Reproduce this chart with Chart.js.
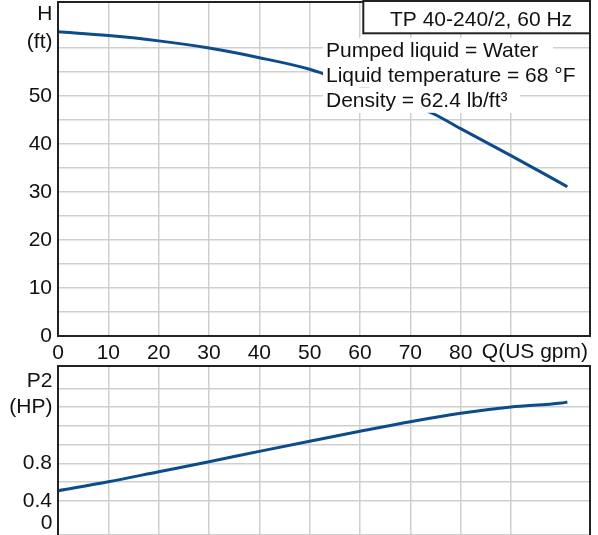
<!DOCTYPE html>
<html lang="en">
<head>
<meta charset="UTF-8">
<title>TP 40-240/2, 60 Hz</title>
<script src="https://cdn.jsdelivr.net/npm/chart.js"></script>
<style>
  body { margin: 0; background: #fff; }
  #wrap { position: relative; width: 598px; height: 535px; overflow: hidden; }
  canvas { position: absolute; left: 0; }
  #headChart { top: 0; }
  #powerChart { top: 362px; }
</style>
</head>
<body>
<div id="wrap">
  <canvas id="headChart" width="598" height="366"></canvas>
  <canvas id="powerChart" width="598" height="173"></canvas>
</div>
<script>
// pump curve data
const flowQ = [0, 10, 20, 30, 40, 50, 52.8, 60, 70, 75, 80, 90, 100, 101.2];
const headH = [63.4, 62.6, 61.5, 60.0, 58.0, 55.6, 54.6, 52.1, 48.4, 46.1, 43.2, 37.6, 31.8, 31.1];
const powerQ = [0, 10, 20, 30, 40, 50, 60, 70, 80, 90, 100, 101.2];
const powerP2 = [0.507, 0.603, 0.71, 0.817, 0.928, 1.036, 1.142, 1.245, 1.335, 1.402, 1.445, 1.456];

const xTickLabels = ['0', '10', '20', '30', '40', '50', '60', '70', '80'];
const headTickLabels = ['0', '10', '20', '30', '40', '50'];
const powerTickLabels = ['0.8', '0.4'];
const powerZeroLabel = '0';
const titleText = 'TP 40-240/2, 60 Hz';
const infoLines = ['Pumped liquid = Water', 'Liquid temperature = 68 \u00B0F', 'Density = 62.4 lb/ft\u00B3'];

const FONT = '"Liberation Sans", Arial, sans-serif';
const FSIZE = 21;
const TXT = '#111';
const GRID = '#cfcfcf';
const CURVE = '#0d4c8a';

function frame(chart, withBottom) {
    const c = chart.ctx, a = chart.chartArea;
    c.save();
    c.strokeStyle = '#222';
    c.lineWidth = 2;
    c.beginPath();
    if (withBottom) {
        c.rect(a.left, a.top, a.right - a.left, a.bottom - a.top);
    } else {
        c.moveTo(a.left, a.bottom + 2);
        c.lineTo(a.left, a.top);
        c.lineTo(a.right, a.top);
        c.lineTo(a.right, a.bottom + 2);
    }
    c.stroke();
    c.restore();
}

// no extra room for half tick labels, the plot fills its box
function noPad(s) {
    s.paddingTop = 0;
    s.paddingBottom = 0;
    s.paddingLeft = 0;
    s.paddingRight = 0;
}

const headNotes = {
    id: 'headNotes',
    afterDatasetsDraw(chart) {
        const c = chart.ctx, a = chart.chartArea;
        const rowRight = [553, a.right, 520];
        c.save();
        c.font = FSIZE + 'px ' + FONT;
        c.textBaseline = 'alphabetic';
        c.textAlign = 'left';
        infoLines.forEach((t, i) => {
            const base = 57.3 + i * 25;
            c.fillStyle = '#fff';
            c.fillRect(323, base - 19.5, rowRight[i] - 323, 25);
            c.fillStyle = TXT;
            c.fillText(t, 326, base);
        });
        c.restore();
    },
    afterDraw(chart) {
        const c = chart.ctx, a = chart.chartArea;
        frame(chart, true);
        c.save();
        // title box
        c.fillStyle = '#fff';
        c.fillRect(363.3, 1, a.right - 363.3, 32.3);
        c.strokeStyle = '#222';
        c.lineWidth = 2;
        c.strokeRect(363.3, 1, a.right - 363.3, 32.3);
        c.font = FSIZE + 'px ' + FONT;
        c.fillStyle = TXT;
        c.textAlign = 'left';
        c.textBaseline = 'alphabetic';
        c.fillText(titleText, 390, 26);
        // axis titles
        c.textAlign = 'right';
        c.textBaseline = 'middle';
        c.fillText('H', 52.5, 14.5);
        c.fillText('(ft)', 52.5, 42);
        c.fillText('Q(US gpm)', 588, 352);
        c.restore();
    }
};

const powerNotes = {
    id: 'powerNotes',
    afterDraw(chart) {
        const c = chart.ctx, a = chart.chartArea;
        const y = chart.scales.y;
        frame(chart, false);
        c.save();
        c.font = FSIZE + 'px ' + FONT;
        c.fillStyle = TXT;
        c.textAlign = 'right';
        c.textBaseline = 'middle';
        c.fillText('P2', 52.5, 19);
        c.fillText('(HP)', 52.5, 45);
        // zero label, kept inside the visible strip
        const zy = Math.min(y.getPixelForValue(0), a.bottom - 11.4);
        c.fillText(powerZeroLabel, 52.5, zy);
        c.restore();
    }
};

const tickFont = { family: FONT, size: FSIZE };

new Chart(document.getElementById('headChart'), {
    type: 'line',
    data: {
        datasets: [{
            data: flowQ.map((q, i) => ({ x: q, y: headH[i] })),
            borderColor: CURVE,
            borderWidth: 3,
            pointRadius: 0,
            cubicInterpolationMode: 'monotone'
        }]
    },
    options: {
        responsive: false,
        animation: false,
        layout: { padding: { top: 2, right: 8, left: 0, bottom: 0 } },
        plugins: { legend: { display: false }, tooltip: { enabled: false } },
        scales: {
            x: {
                type: 'linear', min: 0, max: 105.7,
                border: { display: false },
                grid: { color: GRID, lineWidth: 1.5, drawTicks: false },
                ticks: {
                    stepSize: 10, padding: 5, color: TXT, font: tickFont,
                    maxRotation: 0, autoSkip: false,
                    callback: v => xTickLabels.includes(String(v)) ? String(v) : ''
                },
                afterFit: s => { s.height = 30; noPad(s); }
            },
            y: {
                min: 0, max: 69.6,
                border: { display: false },
                grid: { color: GRID, lineWidth: 1.5, drawTicks: false },
                ticks: {
                    stepSize: 5, padding: 6, color: TXT, font: tickFont, autoSkip: false,
                    callback: v => headTickLabels.includes(String(v)) ? String(v) : ''
                },
                afterFit: s => { s.width = 58; noPad(s); }
            }
        }
    },
    plugins: [headNotes]
});

new Chart(document.getElementById('powerChart'), {
    type: 'line',
    data: {
        datasets: [{
            data: powerQ.map((q, i) => ({ x: q, y: powerP2[i] })),
            borderColor: CURVE,
            borderWidth: 3,
            pointRadius: 0,
            cubicInterpolationMode: 'monotone'
        }]
    },
    options: {
        responsive: false,
        animation: false,
        layout: { padding: { top: 4, right: 8, left: 0, bottom: 0 } },
        plugins: { legend: { display: false }, tooltip: { enabled: false } },
        scales: {
            x: {
                type: 'linear', min: 0, max: 105.7,
                border: { display: false },
                grid: { color: GRID, lineWidth: 1.5, drawTicks: false },
                ticks: { stepSize: 10, display: false },
                afterFit: s => { s.height = 0; noPad(s); }
            },
            y: {
                min: 0.0332, max: 1.841,
                border: { display: false },
                grid: { color: GRID, lineWidth: 1.5, drawTicks: false },
                ticks: {
                    stepSize: 0.2, padding: 6, color: TXT, font: tickFont, autoSkip: false,
                    callback: v => {
                        const s = v.toFixed(1);
                        return powerTickLabels.includes(s) && Math.abs(v - parseFloat(s)) < 1e-6 ? s : '';
                    }
                },
                afterFit: s => { s.width = 58; noPad(s); }
            }
        }
    },
    plugins: [powerNotes]
});
</script>
</body>
</html>
